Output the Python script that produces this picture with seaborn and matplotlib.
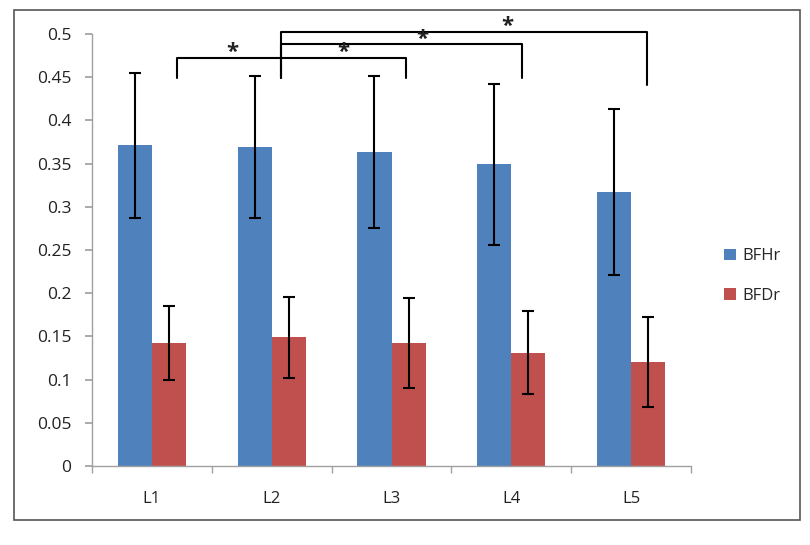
import numpy as np
import pandas as pd
import matplotlib
matplotlib.use("Agg")
import matplotlib.pyplot as plt
import seaborn as sns
from matplotlib.patches import Rectangle

categories = ["L1", "L2", "L3", "L4", "L5"]
series_names = ["BFHr", "BFDr"]
bfhr_values = [0.371, 0.369, 0.363, 0.349, 0.317]
bfhr_errors = [0.084, 0.082, 0.088, 0.093, 0.096]
bfdr_values = [0.142, 0.149, 0.142, 0.131, 0.120]
bfdr_errors = [0.043, 0.047, 0.052, 0.048, 0.052]
y_ticks = [0, 0.05, 0.1, 0.15, 0.2, 0.25, 0.3, 0.35, 0.4, 0.45, 0.5]
y_tick_labels = ["0", "0.05", "0.1", "0.15", "0.2", "0.25", "0.3", "0.35", "0.4", "0.45", "0.5"]

# significance brackets: (left x, right x, bar height, left drop, right drop, star x)
brackets = [
    (0.21, 1.08, 0.472, 0.449, 0.472, 0.67),
    (1.08, 2.12, 0.472, 0.472, 0.449, 1.60),
    (1.08, 3.09, 0.488, 0.449, 0.449, 2.26),
    (1.08, 4.13, 0.502, 0.449, 0.441, 2.97),
]

sns.set_theme(style="white")
plt.rcParams["font.family"] = ["Open Sans", "DejaVu Sans"]

df = pd.DataFrame({
    "cat": categories * 2,
    "series": [series_names[0]] * 5 + [series_names[1]] * 5,
    "value": bfhr_values + bfdr_values,
})

fig = plt.figure(figsize=(8.1, 5.45), dpi=100)
ax = fig.add_axes([92 / 810, 1 - 466 / 545, (691 - 92) / 810, (466 - 34) / 545])

sns.barplot(data=df, x="cat", y="value", hue="series", order=categories,
            hue_order=series_names, palette=["#4F81BD", "#C0504D"],
            width=0.57, errorbar=None, saturation=1, ax=ax, linewidth=0)

patches = [p for p in ax.patches if p.get_height() > 0]
blue = sorted([p for p in patches if p.get_facecolor()[2] > 0.5], key=lambda q: q.get_x())
red = sorted([p for p in patches if p.get_facecolor()[2] <= 0.5], key=lambda q: q.get_x())
for group, ev in ((blue, bfhr_errors), (red, bfdr_errors)):
    xs = [p.get_x() + p.get_width() / 2 for p in group]
    ys = [p.get_height() for p in group]
    ax.errorbar(xs, ys, yerr=ev, fmt="none", ecolor="black", elinewidth=1.5,
                capsize=4, capthick=1.5, zorder=5)

ax.set_ylim(0, 0.5)
ax.set_xlim(-0.5, 4.5)
ax.set_yticks(y_ticks)
ax.set_yticklabels(y_tick_labels, fontsize=12.5, color="#222222")
ax.set_xticks(range(5))
ax.set_xticklabels(categories, fontsize=12, color="#222222")
ax.set_xlabel("")
ax.set_ylabel("")
ax.tick_params(axis="y", which="both", left=True, length=5, color="#a0a0a0", pad=10)
ax.tick_params(axis="x", length=0, pad=18)
ax.set_xticks(np.arange(-0.5, 5, 1), minor=True)
ax.tick_params(axis="x", which="minor", bottom=True, length=5, color="#a0a0a0")
for s in ["top", "right"]:
    ax.spines[s].set_visible(False)
for s in ["left", "bottom"]:
    ax.spines[s].set_color("#a0a0a0")
    ax.spines[s].set_linewidth(1)

for lx, rx, top, ld, rd, sx in brackets:
    ax.plot([lx, lx, rx, rx], [ld, top, top, rd], color="black", lw=1.5,
            clip_on=False, zorder=6)
    ax.text(sx, top - 0.006, "*", ha="center", va="bottom", fontsize=16,
            fontweight="bold", color="#222222", clip_on=False, zorder=7)

ax.legend(loc="center left", bbox_to_anchor=(1.03, 0.44), frameon=False,
          fontsize=12, handlelength=0.7, handleheight=0.7,
          labelspacing=1.4, handletextpad=0.4)

fig.patches.append(Rectangle((14 / 810, 1 - 520 / 545), (800 - 14) / 810,
                             (520 - 10) / 545, transform=fig.transFigure,
                             fill=False, edgecolor="#555555", lw=1.2))

fig.savefig("out.png", dpi=100, facecolor="white")
